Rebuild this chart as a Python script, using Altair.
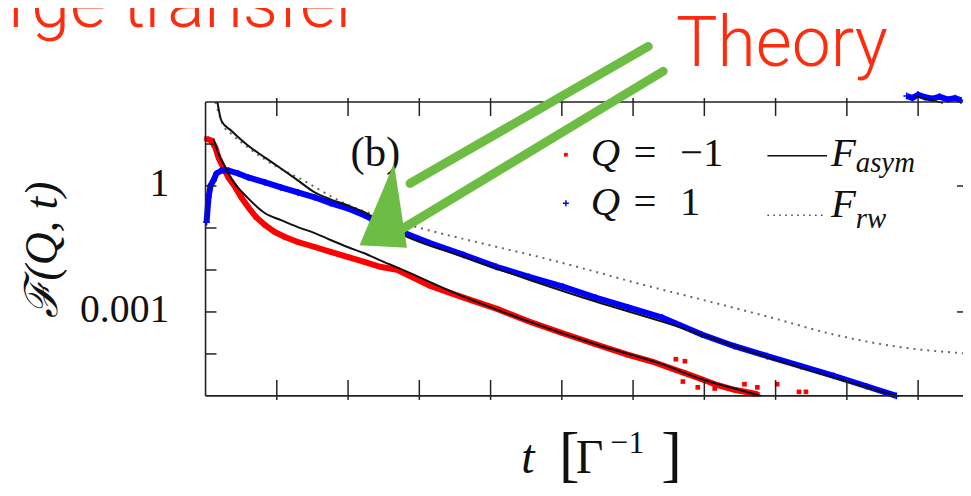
import altair as alt
import pandas as pd

# ---------------- data ----------------
# Q = -1 simulation (red squares)
red_t = [0.014, 0.084, 0.139, 0.181, 0.251, 0.320, 0.418, 0.501, 0.599, 0.710,
         0.836, 0.975, 1.114, 1.295, 1.532, 1.755, 1.992, 2.228, 2.451, 2.688,
         3.148, 3.621, 4.081, 4.540, 5.014, 5.474, 5.933, 6.267, 6.490, 6.727,
         6.964, 7.187, 7.423, 7.744]
red_F = [13.4, 12.0, 8.18, 4.74, 2.75, 1.60, 0.927, 0.538, 0.312, 0.181,
         0.117, 0.080, 0.061, 0.0463, 0.0353, 0.0269, 0.0205, 0.0156, 0.0119, 0.0101,
         0.0042, 0.0022, 0.0012, 0.00059, 0.00031, 0.00017, 9.5e-5, 6.6e-5, 4.8e-5, 3.5e-5,
         2.5e-5, 1.8e-5, 1.4e-5, 1.1e-5]
# noisy tail of Q = -1
red_tail_t = [6.727, 6.699, 7.145, 6.908, 8.022, 8.329, 8.426, 7.744, 7.563, 6.60]
red_tail_F = [6.7e-5, 2.2e-5, 1.5e-5, 1.6e-5, 1.9e-5, 1.25e-5, 1.25e-5, 1.6e-5, 1.9e-5, 7.5e-5]

# Q = 1 simulation (blue crosses)
blue_t = [0.014, 0.042, 0.07, 0.111, 0.153, 0.223, 0.320, 0.460, 0.599, 0.836,
          1.058, 1.295, 1.532, 1.755, 1.992, 2.228, 2.312, 2.688, 3.148, 3.621,
          4.081, 4.540, 5.014, 5.474, 5.933, 6.407, 6.964, 7.423, 7.883, 8.357,
          8.816, 9.276, 9.694]
blue_F = [0.138, 0.538, 1.03, 1.36, 1.99, 2.34, 2.34, 1.99, 1.60, 1.22,
          0.927, 0.706, 0.538, 0.388, 0.295, 0.202, 0.171, 0.0891, 0.0440, 0.0229,
          0.0119, 0.00690, 0.00400, 0.00220, 0.00128, 0.00074, 0.00029, 0.000153, 8.9e-5, 5.1e-5,
          3.0e-5, 1.7e-5, 1.0e-5]
# blue points of the neighbouring panel peeking in at the top right
blue_top_t = [9.84, 9.92, 10.0, 10.1, 10.2, 10.3, 10.42, 10.52, 10.6]
blue_top_F = [140, 125, 150, 130, 120, 135, 115, 125, 110]
top_line_t = [9.97, 10.35]
top_line_F = [138, 95]

# F_asym for Q = 1 (upper solid)
asym1_t = [0.167, 0.223, 0.362, 0.599, 0.836, 1.058, 1.295, 1.532, 1.755, 1.992,
           2.228, 2.688, 3.621, 4.540, 5.474, 6.407, 7.883, 9.694]
asym1_F = [100, 35.6, 20.7, 9.1, 4.74, 2.61, 1.36, 0.706, 0.482, 0.348,
           0.238, 0.080, 0.0205, 0.00586, 0.00177, 0.00059, 8.4e-5, 1.0e-5]
# F_asym for Q = -1 (lower solid)
asym2_t = [0.111, 0.181, 0.279, 0.362, 0.599, 0.836, 1.058, 1.295, 1.532, 1.755,
           1.992, 2.228, 2.451, 2.688, 3.621, 4.540, 5.474, 6.407, 6.964, 7.423, 7.799]
asym2_F = [13.4, 5.90, 2.75, 1.51, 0.509, 0.225, 0.154, 0.105, 0.0757, 0.0518,
           0.0353, 0.0250, 0.0170, 0.0115, 0.00232, 0.00059, 0.00017, 5.7e-5, 2.5e-5, 1.5e-5, 1.0e-5]
# F_rw (dotted)
rw_t = [0.139, 0.251, 0.362, 0.599, 1.021, 1.295, 1.950, 2.869, 3.802, 4.735,
        5.474, 6.031, 6.964, 7.883, 8.816, 9.749, 10.63]
rw_F = [100, 27.1, 17.5, 8.18, 2.75, 1.60, 0.388, 0.117, 0.0463, 0.0194,
        0.00906, 0.00498, 0.00197, 0.00078, 0.00029, 0.000145, 0.000104]

x_ticks = [1, 2, 3, 4, 5, 6, 7, 8, 9, 10]
y_ticks = [1e-4, 1e-3, 1e-2, 1e-1, 1, 10]
y_labels = [1, 0.001]

# ---------------- styles ----------------
SERIF = "Liberation Serif, DejaVu Serif, serif"
SANS = "Helvetica Neue, Roboto, Lato, Liberation Sans, sans-serif"
SLIDE_RED = "#ff2b0f"
GREEN = "#6dbd45"
AX = "#222222"

W, H = 763, 296


def df(t, F):
    return pd.DataFrame({"t": t, "F": F})


X = alt.X("t:Q", scale=alt.Scale(domain=[0, 10.63], nice=False, zero=False), axis=None)
Y = alt.Y("F:Q",
          scale=alt.Scale(type="log", domain=[1e-5, 100], nice=False),
          axis=alt.Axis(values=y_labels, labelExpr="datum.value > 0.5 ? '1' : '0.001'",
                        domain=False, ticks=False, tickSize=0, grid=False, title=None,
                        labelFont=SERIF, labelFontSize=40, labelColor="#111",
                        labelPadding=37, labelBaseline="alphabetic", labelOffset=10))

base = alt.Chart(pd.DataFrame({"k": [0]}))


def txt(s, x, y, size, italic=False, font=SERIF, align="left", color="#111", angle=0, weight="normal"):
    return base.mark_text(text=s, fontSize=size, font=font,
                          fontStyle="italic" if italic else "normal",
                          align=align, baseline="alphabetic", color=color,
                          angle=angle, fontWeight=weight).encode(x=alt.value(x), y=alt.value(y))


def seg(x1, y1, x2, y2, color, w, dash=None, cap="round"):
    kw = dict(color=color, strokeWidth=w, strokeCap=cap)
    if dash:
        kw["strokeDash"] = dash
    return base.mark_rule(**kw).encode(x=alt.value(x1), y=alt.value(y1),
                                       x2=alt.value(x2), y2=alt.value(y2))


layers = []

# simulation data
layers.append(alt.Chart(df(red_t, red_F)).mark_line(color="#ff0000", strokeWidth=6).encode(x=X, y=Y))
layers.append(alt.Chart(df(red_t + red_tail_t, red_F + red_tail_F)).mark_square(
    size=22, color="#ff0000", opacity=1).encode(x=X, y=Y))
layers.append(alt.Chart(df(blue_t, blue_F)).mark_line(color="#0000ff", strokeWidth=6).encode(x=X, y=Y))
CROSS = "M-1,0L1,0M0,-1L0,1"
layers.append(alt.Chart(df(blue_t + blue_top_t, blue_F + blue_top_F)).mark_point(
    shape=CROSS, size=45, color="#0000ff", strokeWidth=1.6, filled=False, opacity=1).encode(x=X, y=Y))
layers.append(alt.Chart(df(blue_top_t, blue_top_F)).mark_line(color="#0000ff", strokeWidth=6).encode(x=X, y=Y))
layers.append(alt.Chart(df(top_line_t, top_line_F)).mark_line(color="#111", strokeWidth=1.5).encode(x=X, y=Y))

# theory curves
layers.append(alt.Chart(df(rw_t, rw_F)).mark_line(color="#666", strokeWidth=2, strokeDash=[2, 5],
                                                  interpolate="monotone").encode(x=X, y=Y))
layers.append(alt.Chart(df(asym1_t, asym1_F)).mark_line(color="#111", strokeWidth=2,
                                                        interpolate="monotone").encode(x=X, y=Y))
layers.append(alt.Chart(df(asym2_t, asym2_F)).mark_line(color="#111", strokeWidth=2,
                                                        interpolate="monotone").encode(x=X, y=Y))

# frame (left / top / bottom) and inward ticks
layers.append(seg(0, 0, 0, H, AX, 1.6, cap="butt"))
layers.append(seg(0, 0, W, 0, AX, 1.6, cap="butt"))
layers.append(seg(0, H, W, H, AX, 1.6, cap="butt"))
layers.append(alt.Chart(pd.DataFrame({"t": x_ticks})).mark_rule(color=AX, strokeWidth=1.5).encode(
    x=X, y=alt.value(-4), y2=alt.value(14)))
layers.append(alt.Chart(pd.DataFrame({"t": x_ticks})).mark_rule(color=AX, strokeWidth=1.5).encode(
    x=X, y=alt.value(280), y2=alt.value(300)))
layers.append(alt.Chart(pd.DataFrame({"F": y_ticks})).mark_rule(color=AX, strokeWidth=1.5).encode(
    y=Y, x=alt.value(0), x2=alt.value(11)))
layers.append(alt.Chart(pd.DataFrame({"F": y_labels})).mark_rule(color=AX, strokeWidth=1.5).encode(
    y=Y, x=alt.value(757), x2=alt.value(W)))

# panel label
layers.append(txt("(b)", 146, 64, 43))

# legend
layers.append(base.mark_square(size=14, color="#ff0000", opacity=1).encode(x=alt.value(363), y=alt.value(53)))
layers.append(base.mark_point(shape=CROSS, size=36, color="#0000ff", strokeWidth=1.5, opacity=1).encode(
    x=alt.value(363), y=alt.value(102)))
layers.append(txt("Q", 388, 64, 41, italic=True))
layers.append(txt("=", 431, 64, 41))
layers.append(txt("\u22121", 478, 64, 41))
layers.append(txt("Q", 388, 114, 41, italic=True))
layers.append(txt("=", 431, 114, 41))
layers.append(txt("1", 478, 114, 41))
layers.append(seg(566, 54, 626, 54, "#111", 1.6, cap="butt"))
layers.append(seg(566, 114, 626, 114, "#444", 1.6, dash=[1.5, 4.5], cap="butt"))
layers.append(txt("F", 630, 64, 41, italic=True))
layers.append(txt("asym", 655, 70, 29, italic=True))
layers.append(txt("F", 630, 116, 41, italic=True))
layers.append(txt("rw", 655, 127, 29, italic=True))

# axis titles
layers.append(txt("\u2131(Q, t)", -150, 149, 46, italic=True, align="center", angle=270))
layers.append(txt("t", 318, 374, 48, italic=True))
layers.append(txt("[", 356, 376, 62))
layers.append(txt("\u0393", 373, 374, 48))
layers.append(txt("\u22121", 408, 354, 32))
layers.append(txt("]", 459, 376, 62))

# slide overlay: titles and green hand-drawn arrow
layers.append(txt("Charge transfer", 155, -76, 70, font=SANS, align="right", color=SLIDE_RED, weight=300))
layers.append(txt("Theory", 474, -36, 70, font=SANS, color=SLIDE_RED, weight=300))
layers.append(seg(446, -56, 206, 82, GREEN, 9))
layers.append(seg(461, -31, 196, 129, GREEN, 9))
TRI = "M0.24,-0.96L-0.53,0.87L0.53,0.93Z"
layers.append(base.mark_point(shape=TRI, size=8100, filled=True, color=GREEN, opacity=1).encode(
    x=alt.value(179), y=alt.value(105)))

chart = alt.layer(*layers).properties(
    width=W, height=H,
    autosize=alt.AutoSizeParams(type="none"),
    padding={"left": 199, "top": 93, "right": 0, "bottom": 90},
).configure_view(stroke=None)

chart.save("out.html", embed_options={"renderer": "svg", "actions": False})
